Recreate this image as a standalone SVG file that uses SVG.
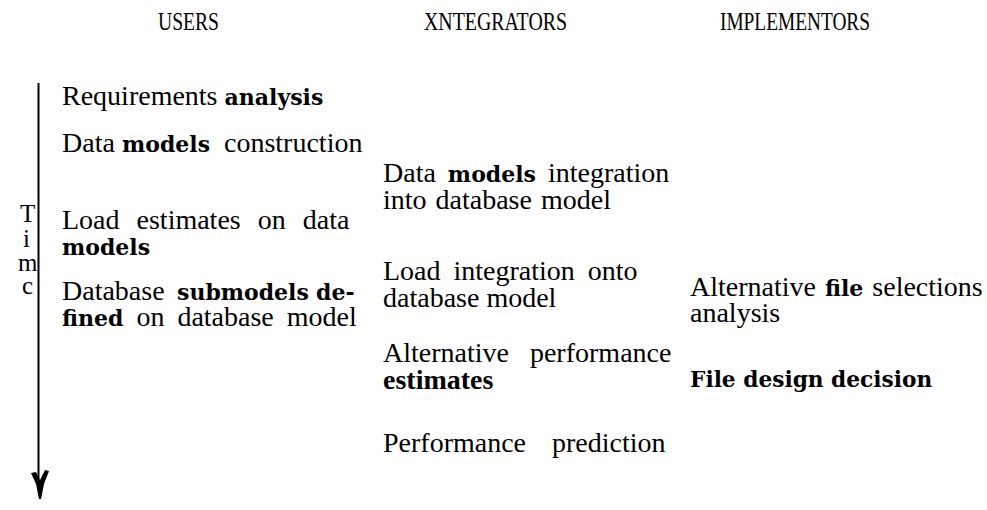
<svg xmlns="http://www.w3.org/2000/svg" width="987" height="510" viewBox="0 0 987 510">
<style>
text{font-family:"Liberation Serif","Times New Roman",serif;font-size:28px;fill:#000}
.hd{font-size:25px}
.b{font-family:"DejaVu Serif",serif;font-weight:bold;font-size:22px}
.tb{font-weight:bold}
.t{font-size:25px}
</style>
<rect width="987" height="510" fill="#fff"/>
<g id="headers">
<text class="hd" x="158" y="30" textLength="61" lengthAdjust="spacingAndGlyphs">USERS</text>
<text class="hd" x="424" y="30" textLength="143" lengthAdjust="spacingAndGlyphs">XNTEGRATORS</text>
<text class="hd" x="720" y="30" textLength="150" lengthAdjust="spacingAndGlyphs">IMPLEMENTORS</text>
</g>
<g id="connectors">
<line x1="38.5" y1="83" x2="38.5" y2="484" stroke="#000" stroke-width="2"/>
<path d="M31,473 L36,472 L40,480 L45,470 L49,471 L44,484 L41,499 L39,499 L36,484 Z" fill="#000"/>
</g>
<g id="time">
<text x="20" y="222" class="t">T</text>
<text x="23" y="247" class="t">i</text>
<text x="18" y="271" class="t">m</text>
<text x="22" y="294" class="t">c</text>
</g>
<g id="u1"><text x="62" y="105">Requirements <tspan class="b">analysis</tspan></text></g>
<g id="u2"><text x="62" y="152">Data<tspan class="b" x="122">models</tspan><tspan x="224">construction</tspan></text></g>
<g id="u3"><text x="62" y="229" word-spacing="10">Load estimates on data</text><text x="62" y="255" class="b">models</text></g>
<g id="u4"><text x="62" y="300">Database<tspan class="b" x="177">submodels</tspan><tspan class="b" x="316">de-</tspan></text><text x="62" y="326" word-spacing="6"><tspan class="b">fined</tspan> on database model</text></g>
<g id="i1"><text x="383" y="182" word-spacing="5">Data <tspan class="b">models</tspan> integration</text><text x="383" y="209" word-spacing="2">into database model</text></g>
<g id="i2"><text x="383" y="280" word-spacing="6">Load integration onto</text><text x="383" y="307">database model</text></g>
<g id="i3"><text x="383" y="362" word-spacing="14">Alternative performance</text><text x="383" y="389" class="tb">estimates</text></g>
<g id="i4"><text x="383" y="452" word-spacing="19">Performance prediction</text></g>
<g id="m1"><text x="690" y="296" word-spacing="2">Alternative <tspan class="b">file</tspan> selections</text><text x="690" y="322">analysis</text></g>
<g id="m2"><text x="690" y="387" class="b" style="font-size:21.7px">File design decision</text></g>
</svg>
